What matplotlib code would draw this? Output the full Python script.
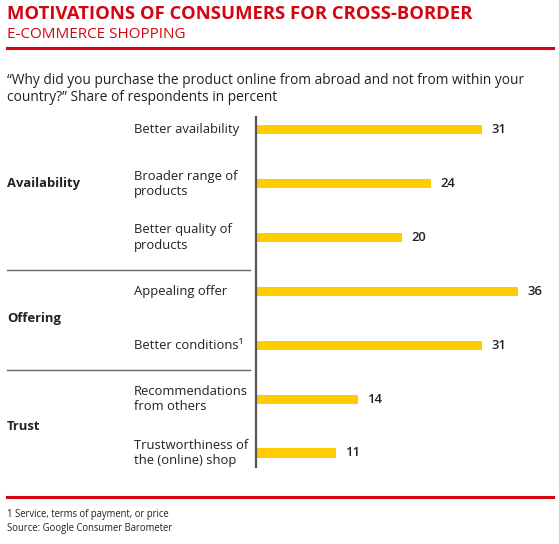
import matplotlib.pyplot as plt
from matplotlib.lines import Line2D

# data
groups = ["Availability", "Offering", "Trust"]
group_members = [[0, 1, 2], [3, 4], [5, 6]]
categories = [
    "Better availability",
    "Broader range of\nproducts",
    "Better quality of\nproducts",
    "Appealing offer",
    "Better conditions\u00b9",
    "Recommendations\nfrom others",
    "Trustworthiness of\nthe (online) shop",
]
values = [31, 24, 20, 36, 31, 14, 11]

RED = "#D40511"
YELLOW = "#FFCC00"
TXT = "#222222"
W, H = 559, 544
FS = 9.4

plt.rcParams["font.family"] = ["Open Sans", "DejaVu Sans"]

fig = plt.figure(figsize=(W / 100, H / 100), dpi=100)


def fx(px):
    return px / W


def fy(py):
    return 1 - py / H


# header
fig.text(fx(7), fy(14), "MOTIVATIONS OF CONSUMERS FOR CROSS-BORDER", color=RED,
         fontsize=13.3, fontweight="bold", va="center", ha="left")
fig.text(fx(7), fy(34), "E-COMMERCE SHOPPING", color=RED,
         fontsize=11.0, va="center", ha="left")
fig.add_artist(Line2D([fx(7), fx(553)], [fy(48), fy(48)], color=RED, lw=2.2))
fig.text(fx(7), fy(89),
         "\u201cWhy did you purchase the product online from abroad and not from within your\n"
         "country?\u201d Share of respondents in percent",
         color=TXT, fontsize=9.9, va="center", ha="left", linespacing=1.2)

# bar axes
x0, x1, y0, y1 = 256, 556, 117, 467
ax = fig.add_axes([fx(x0), fy(y1), fx(x1) - fx(x0), fy(y0) - fy(y1)])
pos = list(range(len(values)))
ax.barh(pos, values, height=0.17, color=YELLOW)
ax.set_xlim(0, 300 / 7.29)
ax.set_ylim(6.26, -0.24)
for s in ["top", "right", "bottom"]:
    ax.spines[s].set_visible(False)
ax.spines["left"].set_color("#555555")
ax.spines["left"].set_linewidth(1.6)
ax.set_xticks([])
ax.set_yticks([])

for p, v in zip(pos, values):
    ax.text(v + 1.3, p, str(v), va="center", ha="left", fontsize=FS,
            fontweight="semibold", color=TXT)

tr = ax.get_yaxis_transform()
for p, c in zip(pos, categories):
    ax.text((134 - x0) / 300, p, c, transform=tr, va="center", ha="left",
            fontsize=FS, color=TXT, linespacing=1.25, clip_on=False)

for g, members in zip(groups, group_members):
    yc = sum(members) / len(members)
    ax.text((7 - x0) / 300, yc, g, transform=tr, va="center", ha="left",
            fontsize=FS, fontweight="bold", color=TXT, clip_on=False)

# group separators
for sy in [270, 370]:
    fig.add_artist(Line2D([fx(7), fx(250)], [fy(sy), fy(sy)], color="#666666", lw=1.0))

# footer
fig.add_artist(Line2D([fx(7), fx(553)], [fy(497), fy(497)], color=RED, lw=2.2))
fig.text(fx(7), fy(514), "1 Service, terms of payment, or price", color=TXT,
         fontsize=6.85, va="center", ha="left")
fig.text(fx(7), fy(528), "Source: Google Consumer Barometer", color=TXT,
         fontsize=6.85, va="center", ha="left")

fig.savefig("out.png", dpi=100, facecolor="white")
